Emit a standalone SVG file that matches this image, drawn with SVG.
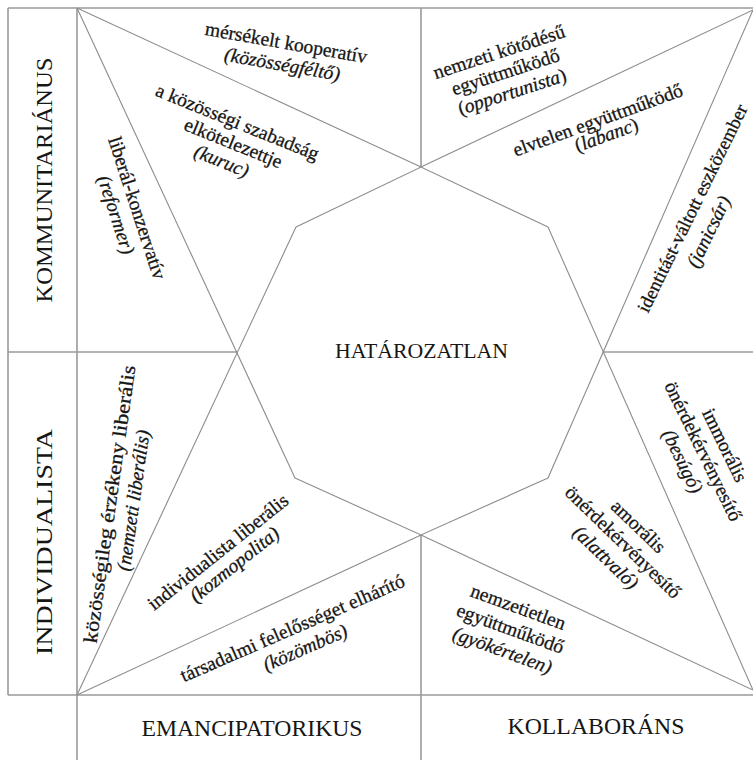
<svg xmlns="http://www.w3.org/2000/svg" width="753" height="760" viewBox="0 0 753 760" font-family="'Liberation Serif','Times New Roman',serif">
<style>
.frame{stroke:#9a9a9a;stroke-width:1.6;fill:none}
.ln{stroke:#8c8c8c;stroke-width:1.1;fill:none}
text{font-family:"Liberation Serif","Times New Roman",serif;fill:#161616}
.big{font-size:24px}
.s{font-size:19.5px;text-anchor:middle;stroke:#161616;stroke-width:0.3}
.i{font-style:italic}
</style>
<rect width="753" height="760" fill="#ffffff"/>
<g id="connectors">
<line class="frame" x1="8" y1="8" x2="753" y2="8"/>
<line class="frame" x1="8" y1="8" x2="8" y2="695"/>
<line class="frame" x1="8" y1="695" x2="753" y2="695"/>
<line class="frame" x1="77" y1="8" x2="77" y2="760"/>
<line class="frame" x1="8" y1="352" x2="237" y2="352"/>
<line class="frame" x1="603" y1="352" x2="753" y2="352"/>
<line class="frame" x1="421" y1="8" x2="421" y2="167"/>
<line class="frame" x1="421" y1="535" x2="421" y2="760"/>
<line class="ln" x1="77" y1="8" x2="421" y2="167"/>
<line class="ln" x1="421" y1="167" x2="753" y2="10"/>
<line class="ln" x1="77" y1="695" x2="421" y2="535"/>
<line class="ln" x1="421" y1="535" x2="753" y2="690"/>
<line class="ln" x1="77" y1="8" x2="295" y2="478"/>
<line class="ln" x1="77" y1="695" x2="296" y2="227"/>
<line class="ln" x1="753" y1="10" x2="548" y2="478"/>
<line class="ln" x1="753" y1="690" x2="548" y2="227"/>
<polyline class="ln" points="296,227 421,167 548,227"/>
<polyline class="ln" points="295,478 421,535 548,478"/>
</g>
<g id="kommunitarianus"><text class="big" x="-122.5" transform="translate(52,180) rotate(-90)" textLength="245" lengthAdjust="spacingAndGlyphs">KOMMUNITARIÁNUS</text></g>
<g id="individualista"><text class="big" x="-113" transform="translate(52,542) rotate(-90)" textLength="226" lengthAdjust="spacingAndGlyphs">INDIVIDUALISTA</text></g>
<g id="emancipatorikus"><text class="big" x="141.5" y="736" textLength="221" lengthAdjust="spacingAndGlyphs">EMANCIPATORIKUS</text></g>
<g id="kollaborans"><text class="big" x="507.5" y="734" textLength="177" lengthAdjust="spacingAndGlyphs">KOLLABORÁNS</text></g>
<g id="hatarozatlan"><text x="335" y="358" font-size="21" textLength="173" lengthAdjust="spacingAndGlyphs">HATÁROZATLAN</text></g>
<g id="mersekelt" transform="translate(285,49) rotate(10)"><text class="s" x="0" y="0">mérsékelt kooperatív</text><text class="s i" x="0" y="22">(közösségféltő)</text></g>
<g id="kuruc" transform="translate(235,128) rotate(22)"><text class="s" x="0" y="0">a közösségi szabadság</text><text class="s" x="4" y="21">elkötelezettje</text><text class="s i" x="0" y="42">(kuruc)</text></g>
<g id="reformer" transform="translate(131,210) rotate(72)"><text class="s" x="0" y="0">liberál-konzervatív</text><text class="s i" x="0" y="22">(reformer)</text></g>
<g id="opportunista" transform="translate(501,58) rotate(-18)"><text class="s" x="0" y="0">nemzeti kötődésű</text><text class="s" x="0" y="21">együttműködő</text><text class="s" x="0" y="42">(<tspan class="i">opportunista</tspan>)</text></g>
<g id="labanc" transform="translate(600,126) rotate(-20)"><text class="s" x="0" y="0">elvtelen együttműködő</text><text class="s" x="3" y="17">(<tspan class="i">labanc</tspan>)</text></g>
<g id="janicsar" transform="translate(698,211) rotate(-64)"><text class="s" x="0" y="0" font-size="19" style="font-size:19px">identitást-váltott eszközember</text><text class="s i" x="-14" y="25">(janicsár)</text></g>
<g id="besugo" transform="translate(719,448) rotate(64)"><text class="s" x="0" y="0">immorális</text><text class="s" x="-4" y="22">önérdekérvényesítő</text><text class="s i" x="-4" y="45">(besúgó)</text></g>
<g id="alattvalo" transform="translate(634,531) rotate(44)"><text class="s" x="0" y="0">amorális</text><text class="s" x="0" y="22">önérdekérvényesítő</text><text class="s i" x="-2" y="45">(alattvaló)</text></g>
<g id="gyokertelen" transform="translate(516,613) rotate(20)"><text class="s" x="0" y="0">nemzetietlen</text><text class="s" x="0" y="23">együttműködő</text><text class="s i" x="0" y="46">(gyökértelen)</text></g>
<g id="kozombos" transform="translate(295,634) rotate(-23.5)"><text class="s" x="0" y="0">társadalmi felelősséget elhárító</text><text class="s i" x="4" y="23">(közömbös)</text></g>
<g id="kozmopolita" transform="translate(222,557) rotate(-38.5)"><text class="s" x="0" y="0">individualista liberális</text><text class="s i" x="5" y="20">(kozmopolita)</text></g>
<g id="nemzetiliberalis" transform="translate(116,505) rotate(-82)"><text class="s" x="-140" y="0" style="text-anchor:start" textLength="280" lengthAdjust="spacingAndGlyphs">közösségileg érzékeny liberális</text><text class="s i" x="7" y="23">(nemzeti liberális)</text></g>
</svg>
